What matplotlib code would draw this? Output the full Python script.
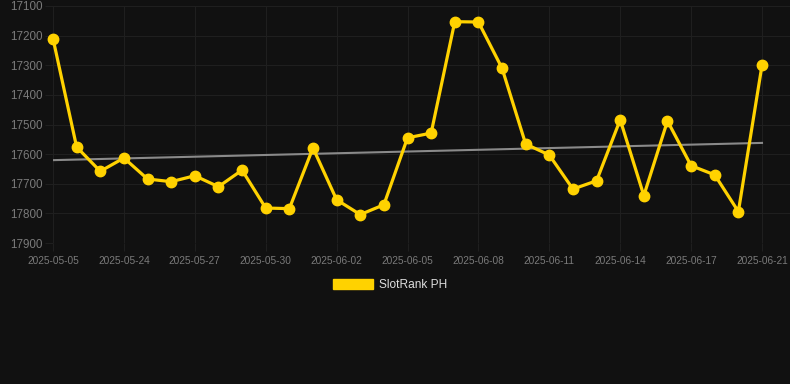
import matplotlib.pyplot as plt
import matplotlib.patches as mpatches
import numpy as np

# categories (one per point), labels shown every third one
dates = ['2025-05-05', '2025-05-22', '2025-05-23', '2025-05-24', '2025-05-25',
         '2025-05-26', '2025-05-27', '2025-05-28', '2025-05-29', '2025-05-30',
         '2025-05-31', '2025-06-01', '2025-06-02', '2025-06-03', '2025-06-04',
         '2025-06-05', '2025-06-06', '2025-06-07', '2025-06-08', '2025-06-09',
         '2025-06-10', '2025-06-11', '2025-06-12', '2025-06-13', '2025-06-14',
         '2025-06-15', '2025-06-16', '2025-06-17', '2025-06-18', '2025-06-19',
         '2025-06-21']
rank = [17210, 17576, 17658, 17613, 17684, 17693, 17673, 17710, 17654, 17782,
        17784, 17579, 17754, 17804, 17771, 17545, 17529, 17153, 17154, 17310,
        17566, 17603, 17718, 17690, 17484, 17740, 17488, 17639, 17670, 17794,
        17300]
series_name = 'SlotRank PH'

bg = '#111111'
grid_c = '#1f1f1f'
tick_c = '#7a7a7a'
yellow = '#ffd200'

plt.rcParams['font.family'] = ['Liberation Sans', 'DejaVu Sans']

fig = plt.figure(figsize=(7.90, 3.84), dpi=100, facecolor=bg)
ax = fig.add_axes([53 / 790, (384 - 243) / 384, (790 - 53) / 790, 237 / 384])
ax.set_facecolor(bg)

x = np.arange(len(dates))
ax.plot(x, rank, color=yellow, lw=2.3, marker='o', ms=7.5, zorder=3, clip_on=False)

# trend line
k, b = np.polyfit(x, rank, 1)
ax.plot([x[0], x[-1]], [k * x[0] + b, k * x[-1] + b], color='#8a8a8a', lw=1.5, zorder=2)

ax.set_xlim(0, 30 * 737 / 709)
ax.set_ylim(17900, 17100)
ax.set_yticks(np.arange(17100, 17901, 100))
ax.set_xticks(x[::3])
ax.set_xticklabels(dates[::3])

ax.grid(True, color=grid_c, lw=0.8)
for s in ax.spines.values():
    s.set_visible(False)
ax.tick_params(axis='y', colors=grid_c, labelcolor=tick_c, labelsize=8.4, length=6, pad=1.5)
ax.tick_params(axis='x', colors=grid_c, labelcolor=tick_c, labelsize=7.3, length=6, pad=3)

handle = mpatches.Patch(color=yellow)
fig.legend([handle], [series_name], loc='center', bbox_to_anchor=(0.494, 0.258),
           frameon=False, fontsize=8.6, labelcolor='#dddddd',
           handlelength=3.4, handleheight=0.9, handletextpad=0.5)

fig.savefig('out.png', dpi=100, facecolor=bg)
